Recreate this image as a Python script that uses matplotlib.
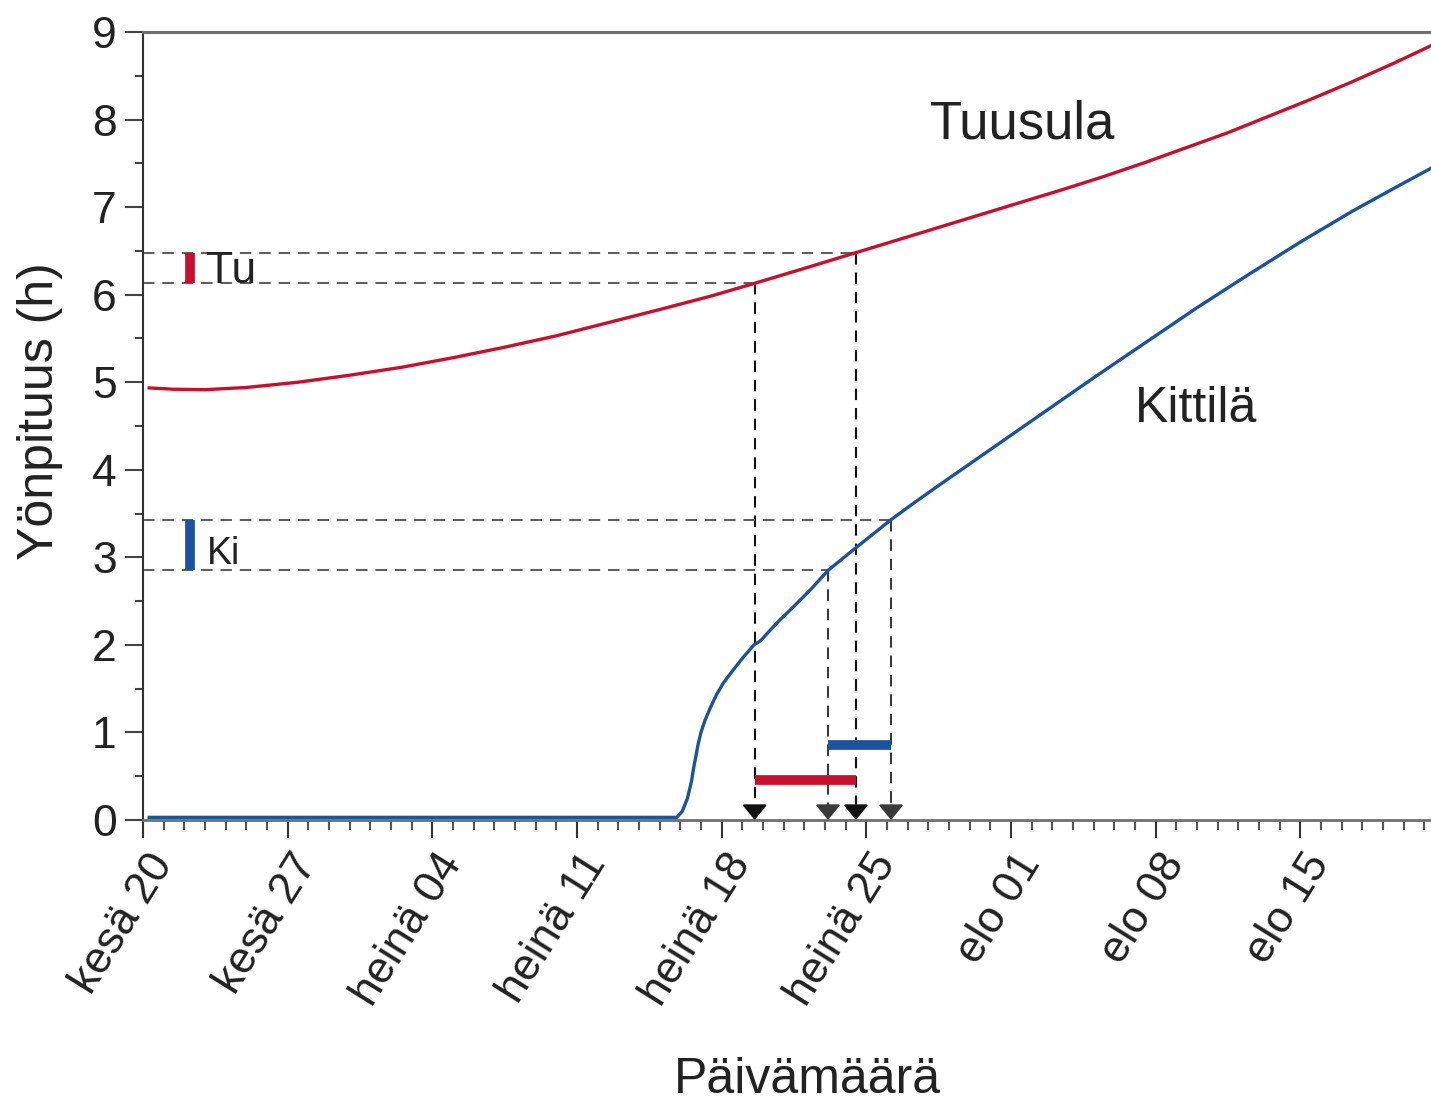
import matplotlib
matplotlib.use("Agg")
import matplotlib.pyplot as plt
from matplotlib.transforms import ScaledTranslation

plt.rcParams['font.family'] = ['Liberation Sans', 'DejaVu Sans']

# days counted from 20 June
tuusula_days = [0.3, 1.5, 3.0, 5.0, 7.5, 10.0, 12.5, 15.0, 17.5, 20.0, 22.5, 25.0,
                27.5, 29.6, 32.0, 34.5, 37.0, 39.5, 42.0, 44.5, 46.5, 48.5, 50.5,
                52.5, 54.5, 56.5, 58.5, 60.5, 62.3]
tuusula_night = [4.935, 4.92, 4.915, 4.94, 5.00, 5.08, 5.17, 5.28, 5.40, 5.53, 5.68, 5.83,
                 5.985, 6.13, 6.30, 6.48, 6.66, 6.84, 7.02, 7.20, 7.35, 7.51, 7.68,
                 7.85, 8.04, 8.23, 8.43, 8.64, 8.84]

kittila_days = [0.3, 25.83, 26.1, 26.35, 26.55, 26.65, 26.75, 26.85, 27.0, 27.2, 27.45,
                27.75, 28.1, 28.55, 29.05, 29.57, 29.9, 30.2, 30.8, 31.5, 32.3, 33.15,
                34.45, 35.3, 36.2, 37.3, 38.5, 41.0, 43.5, 46.0, 48.5, 51.0, 53.5,
                56.0, 58.5, 60.5, 62.3]
kittila_night = [0.03, 0.03, 0.10, 0.25, 0.45, 0.60, 0.72, 0.85, 1.00, 1.14, 1.28,
                 1.43, 1.57, 1.71, 1.86, 2.00, 2.05, 2.13, 2.28, 2.44, 2.63, 2.85,
                 3.10, 3.26, 3.43, 3.62, 3.82, 4.23, 4.64, 5.05, 5.45, 5.85, 6.23,
                 6.60, 6.95, 7.21, 7.44]

# night-length window and the days when each curve crosses it
tu_levels = [6.13, 6.48]
tu_days = [29.6, 34.5]
ki_levels = [2.85, 3.43]
ki_days = [33.15, 36.2]

tick_days = [0, 7, 14, 21, 28, 35, 42, 49, 56]
tick_labels = ["kesä 20", "kesä 27", "heinä 04", "heinä 11", "heinä 18",
               "heinä 25", "elo 01", "elo 08", "elo 15"]

red = "#c8102e"
blue = "#1c53a0"
txt = "#222222"

fig = plt.figure(figsize=(14.31, 11.01), dpi=100)
ax = fig.add_axes([143 / 1431, 281 / 1101, 1288 / 1431, 788 / 1101])
ax.set_xlim(0, 62.33)
ax.set_ylim(0, 9)

# guide lines from the y axis to the curves, then down to the date axis
dash = dict(dashes=(5.5, 3.8), lw=1.5)
for lev, d in zip(tu_levels, tu_days):
    ax.plot([0, d], [lev, lev], color="#606060", **dash, zorder=2)
    ax.plot([d, d], [lev, 0.1], color="#111111", **dash, zorder=2)
for lev, d in zip(ki_levels, ki_days):
    ax.plot([0, d], [lev, lev], color="#606060", **dash, zorder=2)
    ax.plot([d, d], [lev, 0.1], color="#3a3a3a", **dash, zorder=2)
for d, c in zip(tu_days + ki_days, ["#111111", "#111111", "#3a3a3a", "#3a3a3a"]):
    ax.annotate("", xy=(d, 0), xytext=(d, 0.16),
                arrowprops=dict(arrowstyle="-|>,head_length=0.55,head_width=0.45",
                                color=c, lw=1.5, shrinkA=0, shrinkB=0,
                                mutation_scale=17), zorder=4)

ax.plot(tuusula_days, tuusula_night, color=red, lw=2.4, zorder=3)
ax.plot(kittila_days, kittila_night, color=blue, lw=2.4, zorder=3)

# date windows and night-length windows
ax.plot(tu_days, [0.46, 0.46], color=red, lw=7, solid_capstyle="butt", zorder=3)
ax.plot(ki_days, [0.86, 0.86], color=blue, lw=7, solid_capstyle="butt", zorder=3)
ax.plot([2.26, 2.26], tu_levels, color=red, lw=7, solid_capstyle="butt", zorder=3)
ax.plot([2.26, 2.26], ki_levels, color=blue, lw=7, solid_capstyle="butt", zorder=3)
ax.text(3.03, tu_levels[0], "Tu", fontsize=32, color=txt, va="baseline")
ax.text(3.08, 2.92, "Ki", fontsize=27, color=txt, va="baseline")

ax.text(38.08, 7.78, "Tuusula", fontsize=38, color=txt, va="baseline")
ax.text(48.0, 4.55, "Kittilä", fontsize=36, color=txt, va="baseline")

# axes styling
ax.spines["right"].set_visible(False)
ax.spines["left"].set_color("#333333")
ax.spines["left"].set_linewidth(1.5)
ax.spines["top"].set_color("#707070")
ax.spines["top"].set_linewidth(2.2)
ax.spines["bottom"].set_color("#707070")
ax.spines["bottom"].set_linewidth(2.0)

ax.set_yticks(range(10))
ax.set_yticks([i + 0.5 for i in range(9)], minor=True)
ax.set_xticks(tick_days)
ax.set_xticks(range(63), minor=True)
ax.set_xticklabels(tick_labels)

ax.tick_params(axis="y", which="major", length=13, width=1.5, color="#444444",
               labelsize=32, labelcolor=txt, pad=6)
ax.tick_params(axis="y", which="minor", length=6, width=1.5, color="#444444")
ax.tick_params(axis="x", which="major", length=13, width=1.5, color="#333333",
               labelsize=32, labelcolor=txt, pad=6)
ax.tick_params(axis="x", which="minor", length=7, width=1.5, color="#555555")

shift = ScaledTranslation(0.03, 0, fig.dpi_scale_trans)
for lab in ax.get_xticklabels():
    lab.set_rotation(58)
    lab.set_ha("right")
    lab.set_va("top")
    lab.set_rotation_mode("anchor")
    lab.set_transform(lab.get_transform() + shift)

fig.text(40 / 1431, 1 - 411 / 1101, "Yönpituus (h)", rotation=90, fontsize=36,
         color=txt, ha="center", va="center")
fig.text(807 / 1431, 8 / 1101, "Päivämäärä", fontsize=36, color=txt,
         ha="center", va="baseline")

fig.savefig("out.png", dpi=100)
